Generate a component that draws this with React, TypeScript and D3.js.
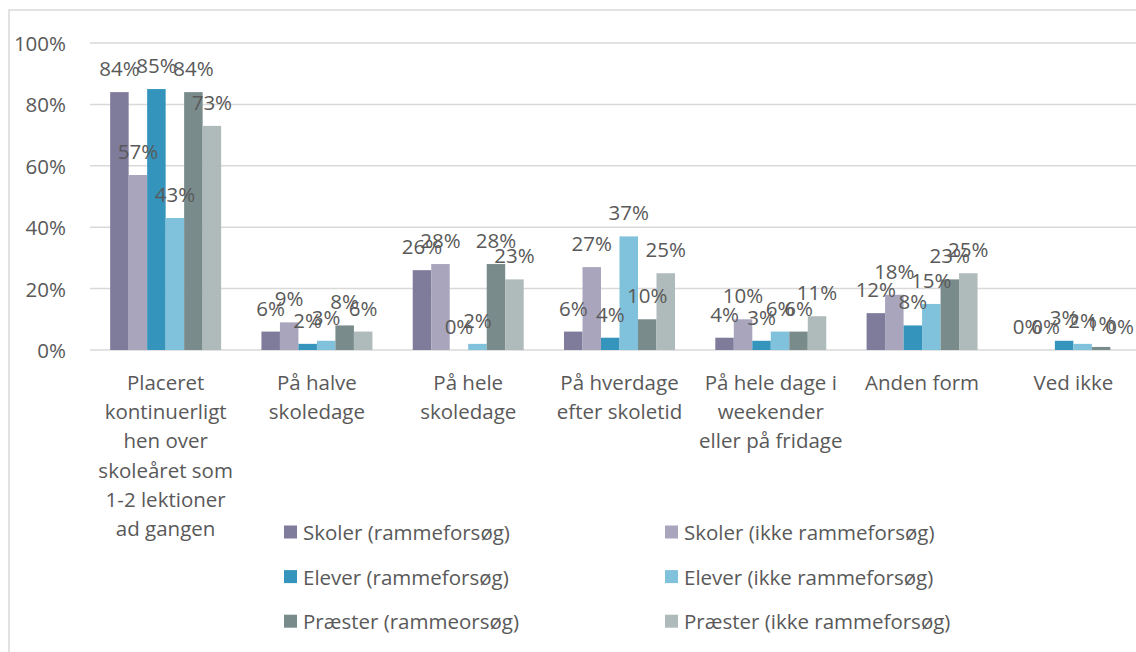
import React from 'react';
import * as d3 from 'd3';

// category labels, already broken into lines as in the picture
const categories = [
  ['Placeret', 'kontinuerligt', 'hen over', 'skoleåret som', '1-2 lektioner', 'ad gangen'],
  ['På halve', 'skoledage'],
  ['På hele', 'skoledage'],
  ['På hverdage', 'efter skoletid'],
  ['På hele dage i', 'weekender', 'eller på fridage'],
  ['Anden form'],
  ['Ved ikke'],
];

const seriesNames = [
  'Skoler (rammeforsøg)',
  'Skoler (ikke rammeforsøg)',
  'Elever (rammeforsøg)',
  'Elever (ikke rammeforsøg)',
  'Præster (rammeorsøg)',
  'Præster (ikke rammeforsøg)',
];

const skolerRamme = [84, 6, 26, 6, 4, 12, 0];
const skolerIkke = [57, 9, 28, 27, 10, 18, 0];
const eleverRamme = [85, 2, 0, 4, 3, 8, 3];
const eleverIkke = [43, 3, 2, 37, 6, 15, 2];
const praesterRamme = [84, 8, 28, 10, 6, 23, 1];
const praesterIkke = [73, 6, 23, 25, 11, 25, 0];

const yTicks = [0, 20, 40, 60, 80, 100];

const colors = ['#7F7B9B', '#A8A5BD', '#3594BC', '#80C1DC', '#7A8B8C', '#AFBBBA'];

const W = 1136;
const H = 652;
const FONT = '"Open Sans", "Noto Sans", sans-serif';
const FS = 20.5;
const TEXT = '#595959';
const GRID = '#D9D9D9';

export default function App() {
  const values = [skolerRamme, skolerIkke, eleverRamme, eleverIkke, praesterRamme, praesterIkke];

  const x0 = d3.scaleBand<number>()
    .domain(categories.map((_, i) => i))
    .range([90, 1149])
    .padding(0);

  const x1 = d3.scaleBand<string>()
    .domain(seriesNames)
    .range([0, x0.bandwidth()])
    .paddingInner(0)
    .paddingOuter(1.09);

  const y = d3.scaleLinear().domain([0, 100]).range([350, 43]);

  const fmt = (v: number) => `${v}%`;

  return (
    <svg width={W} height={H} style={{ position: 'absolute', left: 0, top: 0, background: '#fff' }}
      fontFamily={FONT}>
      {/* chart area border (runs off the right and bottom edge) */}
      <rect x={9} y={10} width={W + 20} height={H + 20} fill="#fff" stroke={GRID} strokeWidth={1.5} />

      {/* gridlines */}
      {yTicks.map(t => (
        <line key={t} x1={90} x2={W} y1={y(t)} y2={y(t)} stroke={GRID} strokeWidth={1.5} />
      ))}

      {/* y tick labels */}
      {yTicks.map(t => (
        <text key={'yl' + t} x={66} y={y(t)} textAnchor="end" dominantBaseline="central"
          fontSize={FS} fill={TEXT}>{fmt(t)}</text>
      ))}

      {/* bars */}
      {values.map((vals, s) => (
        <g key={seriesNames[s]} fill={colors[s]}>
          {vals.map((v, c) => (
            <rect key={c}
              x={(x0(c) ?? 0) + (x1(seriesNames[s]) ?? 0)}
              y={y(v)}
              width={x1.bandwidth()}
              height={y(0) - y(v)} />
          ))}
        </g>
      ))}

      {/* data labels */}
      {values.map((vals, s) => (
        <g key={'lab' + s} fontSize={FS} fill={TEXT} textAnchor="middle">
          {vals.map((v, c) => (
            <text key={c}
              x={(x0(c) ?? 0) + (x1(seriesNames[s]) ?? 0) + x1.bandwidth() / 2}
              y={y(v) - 16}>{fmt(v)}</text>
          ))}
        </g>
      ))}

      {/* category labels */}
      {categories.map((lines, c) => (
        <text key={'cat' + c} x={(x0(c) ?? 0) + x0.bandwidth() / 2} textAnchor="middle"
          fontSize={FS} fill={TEXT} dominantBaseline="central">
          {lines.map((ln, i) => (
            <tspan key={i} x={(x0(c) ?? 0) + x0.bandwidth() / 2} y={382 + i * 29.2}>{ln}</tspan>
          ))}
        </text>
      ))}

      {/* legend: two columns, three rows */}
      {seriesNames.map((name, i) => {
        const col = i % 2;
        const row = Math.floor(i / 2);
        const lx = col === 0 ? 284 : 665;
        const ly = 532 + row * 44.6;
        return (
          <g key={'leg' + i}>
            <rect x={lx} y={ly - 6.5} width={13} height={13} fill={colors[i]} />
            <text x={lx + 19} y={ly} dominantBaseline="central" fontSize={FS} fill={TEXT}>{name}</text>
          </g>
        );
      })}
    </svg>
  );
}
